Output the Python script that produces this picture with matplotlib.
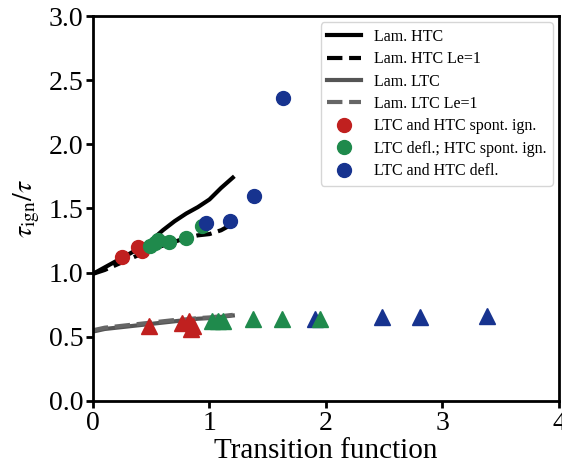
import matplotlib
matplotlib.use('Agg')
import matplotlib.pyplot as plt
import numpy as np

plt.rcParams['font.family'] = ['Liberation Serif', 'DejaVu Serif']
plt.rcParams['mathtext.fontset'] = 'stix'

# laminar reference curves
lam_x = [0.0, 0.1, 0.2, 0.3, 0.4, 0.5, 0.6, 0.7, 0.8, 0.9, 1.0, 1.1, 1.2]
htc_y = [0.99, 1.04, 1.09, 1.14, 1.19, 1.25, 1.33, 1.40, 1.46, 1.51, 1.57, 1.66, 1.74]
htc_le1_y = [0.99, 1.02, 1.06, 1.10, 1.14, 1.18, 1.21, 1.24, 1.27, 1.29, 1.30, 1.33, 1.38]
ltc_y = [0.54, 0.56, 0.57, 0.58, 0.59, 0.60, 0.61, 0.62, 0.63, 0.64, 0.645, 0.655, 0.665]
ltc_le1_y = [0.55, 0.57, 0.58, 0.59, 0.60, 0.61, 0.62, 0.63, 0.635, 0.645, 0.65, 0.66, 0.67]

# HTC ignition delay (circles)
red_c_x = [0.25, 0.39, 0.42]
red_c_y = [1.12, 1.20, 1.17]
green_c_x = [0.49, 0.53, 0.56, 0.65, 0.80, 0.94]
green_c_y = [1.21, 1.23, 1.25, 1.24, 1.27, 1.36]
blue_c_x = [0.97, 1.18, 1.38, 1.63]
blue_c_y = [1.39, 1.40, 1.60, 2.36]

# LTC ignition delay (triangles)
red_t_x = [0.48, 0.76, 0.82, 0.84, 0.86]
red_t_y = [0.58, 0.61, 0.62, 0.56, 0.58]
green_t_x = [1.02, 1.07, 1.12, 1.37, 1.62, 1.95]
green_t_y = [0.62, 0.62, 0.62, 0.64, 0.64, 0.64]
blue_t_x = [1.91, 2.48, 2.81, 3.38]
blue_t_y = [0.64, 0.65, 0.65, 0.66]

red = '#c0201f'
green = '#1f8a4c'
blue = '#17338f'

fig = plt.figure(figsize=(5.62, 4.71), dpi=100)
ax = fig.add_axes([0.1655, 0.149, 0.829, 0.817])

ax.plot(lam_x, htc_y, color='black', lw=3, label='Lam. HTC')
ax.plot(lam_x, htc_le1_y, color='black', lw=3, ls='--', label='Lam. HTC Le=1')
ax.plot(lam_x, ltc_y, color='#555555', lw=3, label='Lam. LTC')
ax.plot(lam_x, ltc_le1_y, color='#666666', lw=3, ls='--', label='Lam. LTC Le=1')

ms = 10
ax.plot(red_c_x, red_c_y, 'o', color=red, ms=ms, ls='none', label='LTC and HTC spont. ign.')
ax.plot(green_c_x, green_c_y, 'o', color=green, ms=ms, ls='none', label='LTC defl.; HTC spont. ign.')
ax.plot(blue_c_x, blue_c_y, 'o', color=blue, ms=ms, ls='none', label='LTC and HTC defl.')
ax.plot(blue_t_x, blue_t_y, '^', color=blue, ms=ms + 1, ls='none')
ax.plot(red_t_x, red_t_y, '^', color=red, ms=ms + 1, ls='none')
ax.plot(green_t_x, green_t_y, '^', color=green, ms=ms + 1, ls='none')

ax.set_xlim(0, 4)
ax.set_ylim(0, 3)
ax.set_xticks([0, 1, 2, 3, 4])
ax.set_yticks([0.0, 0.5, 1.0, 1.5, 2.0, 2.5, 3.0])
ax.set_yticklabels(['0.0', '0.5', '1.0', '1.5', '2.0', '2.5', '3.0'])
ax.tick_params(labelsize=20, width=2, length=5, pad=2)
for sp in ax.spines.values():
    sp.set_linewidth(2)

ax.set_xlabel('Transition function', fontsize=21, labelpad=2)
ax.set_ylabel(r'$\tau_{\mathrm{ign}}/\tau$', fontsize=20, labelpad=5)

ax.legend(loc='upper right', fontsize=11.5, handlelength=2.1, borderaxespad=0.4,
          labelspacing=0.4)

fig.savefig('out.png', dpi=100)
